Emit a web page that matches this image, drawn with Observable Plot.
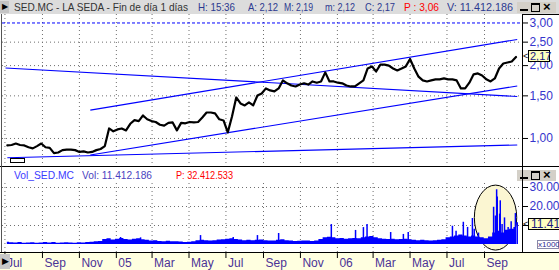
<!DOCTYPE html>
<html><head><meta charset="utf-8">
<script src="https://cdn.jsdelivr.net/npm/d3@7"></script>
<script src="https://cdn.jsdelivr.net/npm/@observablehq/plot@0.6"></script>
<style>
body{margin:0;background:#fff;font-family:"Liberation Sans",Arial,sans-serif;}
#wrap{position:relative;width:559px;height:270px;overflow:hidden;background:#fff;}
.a{position:absolute;white-space:nowrap;}
.t{font-size:11px;line-height:13px;transform-origin:0 0;}
svg{display:block;}
</style></head><body><div id="wrap"></div><script>
// ---------- data ----------
const xDomainDates = ["2004-06-27T00:00Z", "2006-11-02T17:00Z"];
const priceStartWeek = "2004-07-05";
const priceValues = [
0.936,0.94,0.953,0.94,0.936,0.92,0.91,0.93,0.953,0.92,0.915,0.87,0.875,0.895,0.90,0.90,0.895,0.88,0.885,0.875,
0.88,0.895,0.905,0.93,1.10,1.07,1.09,1.10,1.08,1.15,1.19,1.18,1.245,1.20,1.18,1.17,1.14,1.13,1.16,1.165,
1.08,1.16,1.155,1.17,1.165,1.17,1.22,1.28,1.28,1.27,1.20,1.187,1.06,1.233,1.477,1.395,1.37,1.41,1.37,1.505,
1.535,1.61,1.58,1.565,1.61,1.737,1.69,1.655,1.64,1.67,1.69,1.67,1.72,1.70,1.72,1.875,1.72,1.72,1.70,1.69,
1.655,1.64,1.64,1.69,1.737,1.946,1.985,1.89,2.02,2.02,2.00,1.946,1.91,1.946,1.985,2.13,1.946,1.80,1.737,1.72,
1.737,1.755,1.755,1.77,1.755,1.755,1.737,1.61,1.61,1.70,1.84,1.857,1.82,1.755,1.72,1.77,1.946,2.04,2.06,2.08,
2.17];
const volumeValues = [
1.2,0.9,0.8,1.0,0.7,0.8,0.9,0.7,0.8,1.0,0.8,1.0,0.7,0.8,0.9,0.8,0.7,0.9,0.8,1.0,1.2,1.4,1.6,
2.6,3.0,2.4,2.8,3.2,2.6,2.4,2.7,3.0,2.5,2.2,
1.8,2.0,1.6,1.5,1.7,1.5,1.4,1.3,1.0,1.2,1.5,2.0,
2.2,2.0,1.8,2.0,2.4,2.5,2.8,3.0,2.6,2.4,2.0,2.2,2.0,
2.2,2.4,2.0,1.8,1.9,2.2,2.5,2.0,1.8,1.6,1.7,1.8,
1.8,1.6,1.8,2.6,3.6,3.8,3.5,3.0,3.2,2.8,3.0,3.2,3.0,3.5,4.0,4.2,
3.5,3.0,2.8,2.6,2.8,2.5,2.6,2.8,2.5,2.3,2.0,2.2,2.0,1.8,2.0,2.2,2.5,
3.5,4.0,4.5,5.0,4.5,4.0,4.5,4.0,
3.5,3.0,4.0,6.0,7.0,6.0,7.5,8.0,9.0];
const spikeDates = ["2005-01-08","2005-02-10","2005-05-20","2005-07-13","2005-08-22","2005-09-26","2005-12-22","2006-01-31","2006-02-13","2006-02-19","2006-03-30","2006-04-20","2006-04-28","2006-07-10","2006-07-16","2006-07-28","2006-08-04","2006-08-12","2006-08-15","2006-08-22","2006-09-16","2006-09-19","2006-09-21","2006-09-22","2006-09-26","2006-09-27","2006-09-30","2006-10-04","2006-10-10","2006-10-15","2006-10-22","2006-10-25"];
const spikeValues = [3.7,3.5,4.7,3.7,4.7,5.8,10.5,7.4,8.9,10.5,6.3,5.3,6.3,9.6,7,11.7,9,13.7,8,6,19.6,15,28.8,25,16,23,10.5,14,9,12,16.3,11.41];
const trendStartDates = ["2004-11-19","2004-07-02","2004-11-19","2004-07-05"];
const trendStartPrices = [1.310,1.956,0.855,0.832];
const trendEndDates = ["2006-10-25","2006-10-25","2006-10-25","2006-10-25"];
const trendEndPrices = [2.565,1.491,1.648,0.940];
const targetLevel = 3.0;
const priceTicks = [1.0,1.5,2.0,2.5,3.0];
const priceTickLabels = ["1,00","1,50","2,00","2,50","3,00"];
const priceGrid = [1.0,1.5,2.0,2.5];
const volTicks = [10,20,30];
const volTickLabels = ["10.00","20.00","30.00"];
const monthTickDates = ["2004-07-01","2004-09-01","2004-11-01","2005-01-01","2005-03-01","2005-05-01","2005-07-01","2005-09-01","2005-11-01","2006-01-01","2006-03-01","2006-05-01","2006-07-01","2006-09-01"];
const monthTickLabels = ["Jul","Sep","Nov","05","Mar","May","Jul","Sep","Nov","06","Mar","May","Jul","Sep"];
const ellipseCenterDate = "2006-09-20", ellipseCenterValue = 13.9, ellipseHalfDays = 35, ellipseHalfValue = 17.1;
const titleParts = [
  {x:14, w:174, text:"SED.MC - LA SEDA - Fin de día 1 días", color:"#333"},
  {x:198, w:37, text:"H: 15:36", color:"#2b3990"},
  {x:248, w:30, text:"A: 2,12", color:"#2b3990"},
  {x:284, w:29, text:"M: 2,19", color:"#2b3990"},
  {x:325, w:30, text:"m: 2,12", color:"#2b3990"},
  {x:365, w:30, text:"C: 2,17", color:"#2b3990"},
  {x:404, w:35, text:"P : 3,06", color:"#ff0000"},
  {x:447, w:66, text:"V: 11.412.186", color:"#2b3990"}];
const volParts = [
  {x:14, w:60, text:"Vol_SED.MC", color:"#3b3bff"},
  {x:82, w:70, text:"Vol: 11.412.186", color:"#4a3fc0"},
  {x:176, w:57, text:"P: 32.412.533", color:"#ff0000"}];

// ---------- build ----------
const D = s => new Date(s.length === 10 ? s + "T00:00Z" : s);
const xDomain = xDomainDates.map(D);
const w0 = D(priceStartWeek).getTime();
const price = priceValues.map((v,i)=>({date:new Date(w0 + i*7*864e5), value:v}));
const volume = volumeValues.map((v,i)=>({date:new Date(w0 + i*7*864e5), value:v}));
const spikes = spikeDates.map((d,i)=>({date:D(d), value:spikeValues[i]}));
const trends = trendStartDates.map((d,i)=>({d1:D(d), p1:trendStartPrices[i], d2:D(trendEndDates[i]), p2:trendEndPrices[i]}));
const ticks = monthTickDates.map(D);
const FONT = "Liberation Sans, Arial, sans-serif";
const wrap = document.getElementById("wrap");
function div(css, html){ const e=document.createElement("div"); e.className="a"; e.style.cssText=css; if(html!=null) e.innerHTML=html; wrap.appendChild(e); return e; }
function place(svg, top){ svg.style.position="absolute"; svg.style.left="0px"; svg.style.top=top+"px"; wrap.appendChild(svg); }
function fitText(p, top){
  const e = div(`left:${p.x}px;top:${top}px;color:${p.color};`, p.text);
  e.classList.add("t");
  const w = e.getBoundingClientRect().width;
  if (w > 0) e.style.transform = `scaleX(${p.w / w})`;
}

// title bar
div("left:0;top:0;width:559px;height:14px;background:#dcdcdc;");
div("left:0;top:1px;width:9px;height:12px;background:#c4c4c4;font-size:8px;line-height:12px;color:#000;text-align:center;","&#9654;");
titleParts.forEach(p=>fitText(p, 1));
function buttons(top){
  div(`left:517px;top:${top}px;width:39px;height:11px;background:#d4d0c8;`);
  div(`left:520px;top:${top}px;width:8px;height:9px;border-bottom:2px solid #000;box-sizing:border-box;`);
  div(`left:531px;top:${top+1}px;width:9px;height:9px;border:1px solid #000;border-top:2px solid #000;box-sizing:border-box;`);
  div(`left:543px;top:${top}px;font-size:13px;font-weight:bold;line-height:10px;height:11px;color:#000;`,"&#215;");
}
buttons(2);

const styleBase = {fontFamily:FONT, fontSize:"12px", background:"transparent", overflow:"visible"};

// price panel
const pricePlot = Plot.plot({
  width:559, height:152, marginLeft:2, marginRight:37, marginTop:0, marginBottom:0,
  style:styleBase,
  x:{type:"utc", domain:xDomain, axis:null},
  y:{type:"log", domain:[0.766,3.252]},
  marks:[
    Plot.gridX(ticks,{stroke:"#6e6e6e", strokeOpacity:1, strokeDasharray:"1,3"}),
    Plot.gridY(priceGrid,{stroke:"#6e6e6e", strokeOpacity:1, strokeDasharray:"1,3"}),
    Plot.ruleY([targetLevel],{stroke:"#0000ff", strokeDasharray:"3,2"}),
    Plot.link(trends,{x1:"d1", y1:"p1", x2:"d2", y2:"p2", stroke:"#0000ff", strokeWidth:1.1}),
    Plot.line(price,{x:"date", y:"value", stroke:"#000", strokeWidth:2.2}),
    Plot.axisY(priceTicks,{anchor:"right", label:null, tickSize:5, tickPadding:2, stroke:"#000", fill:"#3535cc", fontSize:12,
      tickFormat:d=>priceTickLabels[priceTicks.indexOf(d)]})
  ]
});
place(pricePlot, 14);

// volume panel
const volPlot = Plot.plot({
  width:559, height:69, marginLeft:2, marginRight:37, marginTop:4, marginBottom:8,
  style:styleBase,
  x:{type:"utc", domain:xDomain, axis:null},
  y:{domain:[0,30]},
  marks:[
    Plot.gridX(ticks,{stroke:"#6e6e6e", strokeOpacity:1, strokeDasharray:"1,3", insetTop:-4, insetBottom:-8}),
    Plot.gridY(volTicks,{stroke:"#6e6e6e", strokeOpacity:1, strokeDasharray:"1,3"}),
    Plot.areaY(volume,{x:"date", y:"value", fill:"#0000ff", curve:"step"}),
    Plot.ruleX(spikes,{x:"date", y1:0, y2:"value", stroke:"#0000ff", strokeWidth:1.5}),
    Plot.axisY(volTicks,{anchor:"right", label:null, tickSize:5, tickPadding:2, stroke:"#000", fill:"#3535cc", fontSize:12,
      tickFormat:d=>volTickLabels[volTicks.indexOf(d)]})
  ]
});
{
  const sx = volPlot.scale("x"), sy = volPlot.scale("y");
  const c = D(ellipseCenterDate);
  const cx = sx.apply(c), cy = sy.apply(ellipseCenterValue);
  const rx = sx.apply(new Date(c.getTime()+ellipseHalfDays*864e5)) - cx;
  const ry = sy.apply(ellipseCenterValue - ellipseHalfValue) - cy;
  const el = document.createElementNS("http://www.w3.org/2000/svg","ellipse");
  el.setAttribute("cx",cx); el.setAttribute("cy",cy); el.setAttribute("rx",rx); el.setAttribute("ry",ry);
  el.setAttribute("fill","#fbf6d2"); el.setAttribute("stroke","#000"); el.setAttribute("stroke-width","1");
  const target = volPlot.querySelector('[aria-label="area"]');
  if (target) volPlot.insertBefore(el, target); else volPlot.appendChild(el);
}
place(volPlot, 183);

// volume header
volParts.forEach(p=>fitText(p, 169));
buttons(170);

// x band
const xPlot = Plot.plot({
  width:559, height:18, marginLeft:2, marginRight:37, marginTop:0, marginBottom:0,
  style:Object.assign({}, styleBase, {background:"#ffffe0"}),
  x:{type:"utc", domain:xDomain, axis:null},
  marks:[
    Plot.ruleX(ticks,{stroke:"#000", insetBottom:12}),
    Plot.text(ticks,{x:d=>d, text:(d,i)=>monthTickLabels[i], frameAnchor:"top", lineAnchor:"top", textAnchor:"start", dx:2, dy:6, fill:"#4b3296", fontSize:12})
  ]
});
place(xPlot, 252);

// chrome lines & boxes
div("left:0;top:252px;width:559px;height:1px;background:#000;");
div("left:0;top:166px;width:559px;height:1px;background:#000;");
div("left:522px;top:14px;width:37px;height:1px;background:#000;");
div("left:522px;top:14px;width:1px;height:238px;background:#000;");
div("left:1px;top:14px;width:1px;height:238px;background:#555;");
div("left:0;top:254px;width:10px;height:15px;background:#c8c8c8;font-size:9px;line-height:15px;text-align:center;color:#000;","&#9654;");
div("left:10px;top:158px;width:15px;height:5px;border:1px solid #000;background:#fff;box-sizing:border-box;");
const lastPrice = priceValues[priceValues.length-1].toFixed(2).replace(".",",");
div("left:523px;top:50px;font-size:9px;line-height:12px;color:#000;","&lt;");
div("left:528px;top:50px;width:22px;height:12px;border:1px solid #000;background:#ffffc0;box-sizing:border-box;font-size:11px;line-height:10px;color:#1a1a80;padding-left:1px;", lastPrice);
const lastVol = spikeValues[spikeValues.length-1].toFixed(2);
div("left:523px;top:218px;font-size:9px;line-height:12px;color:#000;","&lt;");
div("left:528px;top:218px;width:34px;height:12px;border:1px solid #000;background:#ffffc0;box-sizing:border-box;font-size:12px;line-height:10px;color:#1a1a80;padding-left:2px;overflow:hidden;", lastVol);
div("left:537px;top:240px;width:22px;height:9px;border:1px solid #8888aa;background:#fff;box-sizing:border-box;font-size:8px;line-height:7px;color:#2b2b90;", "x1000");
</script></body></html>
